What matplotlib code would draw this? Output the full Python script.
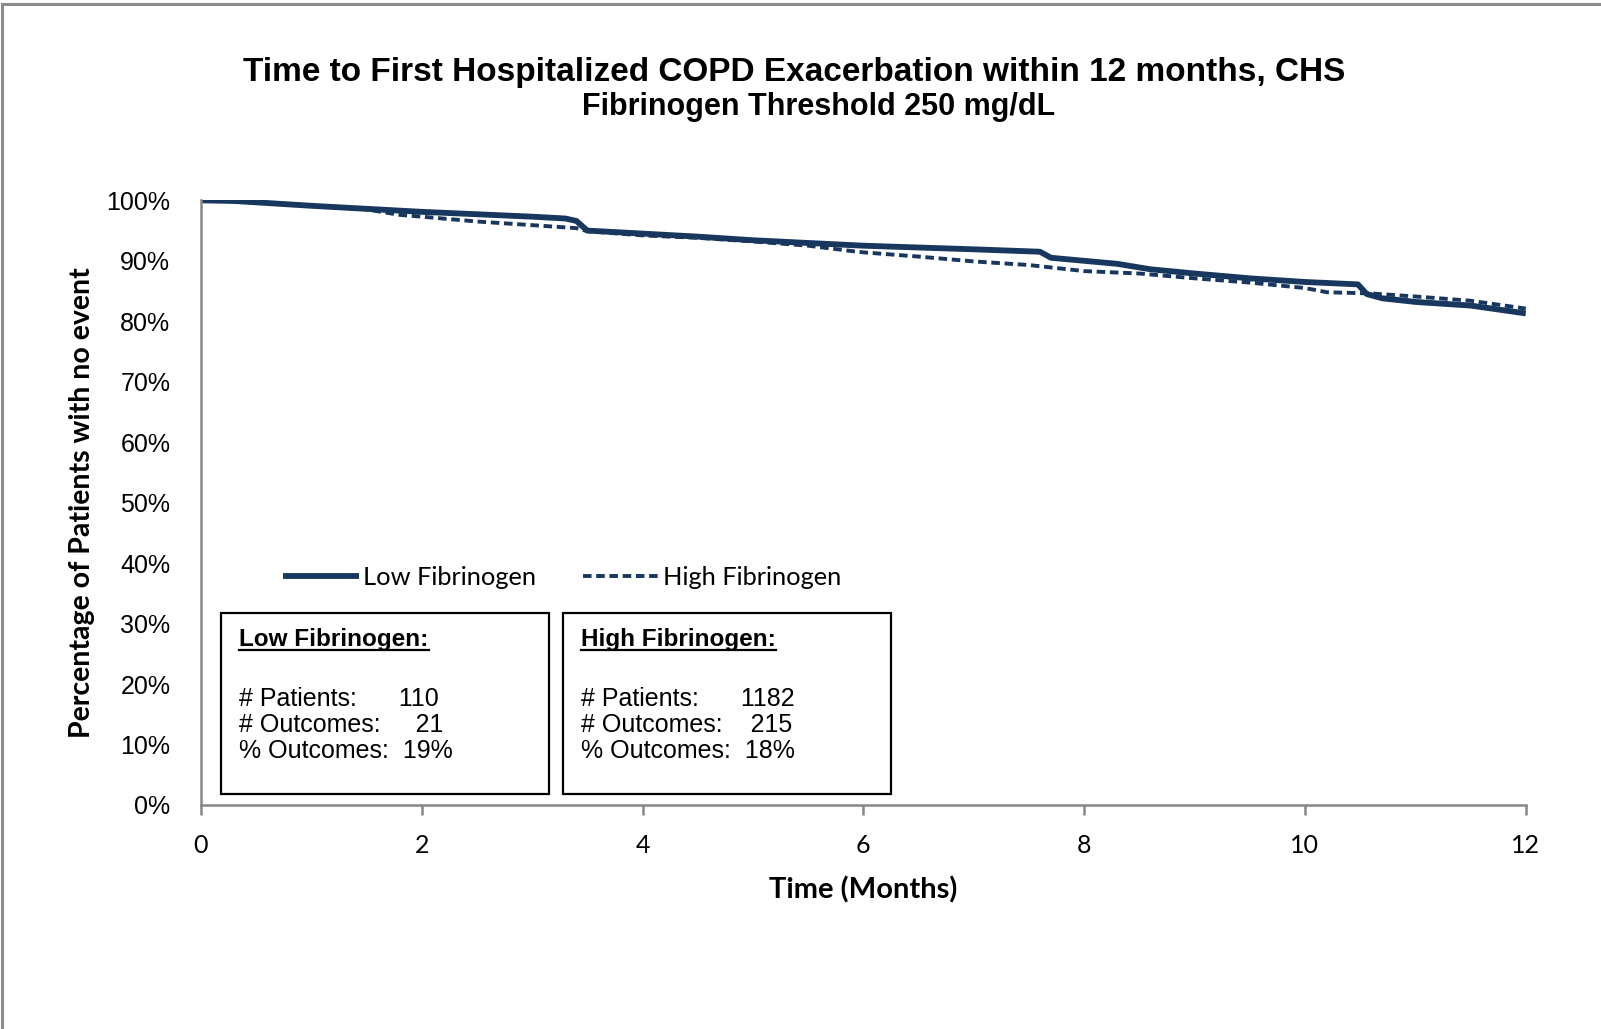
import numpy as np
import matplotlib
matplotlib.use('Agg')
import matplotlib.pyplot as plt
from matplotlib.lines import Line2D
from matplotlib.patches import Rectangle
from matplotlib.ticker import FuncFormatter

# Kaplan-Meier style curves (months, % event free)
low_t = [0, 0.3, 1.0, 1.5, 2.0, 2.5, 3.0, 3.3, 3.4, 3.5, 4.0, 4.5, 5.0, 6.0, 7.0,
         7.6, 7.7, 8.0, 8.3, 8.6, 9.0, 9.5, 10.0, 10.48, 10.56, 10.7, 11.0, 11.5, 12]
low_y = [100, 99.9, 99.1, 98.6, 98.1, 97.7, 97.3, 97.0, 96.6, 95.0, 94.5, 94.0, 93.4,
         92.5, 91.9, 91.5, 90.5, 90.0, 89.5, 88.6, 87.9, 87.1, 86.5, 86.1, 84.5, 83.8,
         83.2, 82.6, 81.3]

high_t = [0, 0.5, 1.0, 1.5, 1.8, 2.0, 2.5, 3.0, 3.4, 3.5, 4.0, 4.5, 5.0, 5.5, 5.9,
          6.0, 6.5, 7.0, 7.5, 8.0, 8.5, 9.0, 9.5, 10.0, 10.2, 10.6, 11.0, 11.5, 12]
high_y = [100, 99.7, 99.1, 98.5, 97.6, 97.3, 96.5, 95.9, 95.4, 94.9, 94.2, 93.8, 93.2,
          92.5, 91.6, 91.4, 90.7, 89.9, 89.3, 88.3, 87.9, 87.1, 86.4, 85.5, 84.8, 84.6,
          84.1, 83.4, 82.1]

series_names = ['Low Fibrinogen', 'High Fibrinogen']
n_patients = [110, 1182]
n_outcomes = [21, 215]
pct_outcomes = [19, 18]

navy = '#17375E'
grey = '#868686'

fig = plt.figure(figsize=(16.01, 10.29), dpi=100)
ax = fig.add_axes([0.1255, 0.2177, 0.8275, 0.5876])

l1, = ax.plot(low_t, low_y, color=navy, lw=4.2, solid_capstyle='butt',
              label=series_names[0])
l2, = ax.plot(high_t, high_y, color=navy, lw=2.8, ls=(0, (2.2, 1.2)),
              label=series_names[1])

ax.set_xlim(0, 12)
ax.set_ylim(0, 100)
ax.set_xticks(np.arange(0, 13, 2))
ax.set_yticks(np.arange(0, 101, 10))
ax.yaxis.set_major_formatter(FuncFormatter(lambda v, p: '%d%%' % v))
for s in ['top', 'right']:
    ax.spines[s].set_visible(False)
for s in ['left', 'bottom']:
    ax.spines[s].set_color(grey)
    ax.spines[s].set_linewidth(1.8)
ax.tick_params(axis='y', length=0, pad=22, labelsize=18)
ax.tick_params(axis='x', length=7, width=1.8, color=grey, pad=14, labelsize=18)
for lab in ax.get_yticklabels():
    lab.set_fontfamily('Liberation Sans')
for lab in ax.get_xticklabels():
    lab.set_fontfamily('Lato')

ax.set_xlabel('Time (Months)', fontsize=21, fontweight='bold', family='Lato',
              labelpad=14)
ax.set_ylabel('Percentage of Patients with no event', fontsize=20.5,
              fontweight='bold', family='Lato', labelpad=8)

fig.text(0.496, 0.93, 'Time to First Hospitalized COPD Exacerbation within 12 months, CHS',
         ha='center', va='center', fontsize=24, fontweight='bold',
         family='Liberation Sans')
fig.text(0.5115, 0.896, 'Fibrinogen Threshold 250 mg/dL', ha='center', va='center',
         fontsize=22, fontweight='bold', family='Liberation Sans')

leg = ax.legend(handles=[l1, l2], loc='center left', bbox_to_anchor=(0.062, 0.376),
                ncol=2, frameon=False, handlelength=3.0, handletextpad=0.15,
                columnspacing=1.85, borderpad=0, borderaxespad=0,
                prop={'family': 'Lato', 'size': 18.3})

# statistics boxes
box_x = [0.015, 0.273]
box_w = 0.248
box_y0, box_y1 = 0.018, 0.318
for i in range(2):
    ax.add_patch(Rectangle((box_x[i], box_y0), box_w, box_y1 - box_y0,
                           transform=ax.transAxes, fill=False, ec='black', lw=1.6))
    tx = box_x[i] + 0.014
    hdr = ax.text(tx, 0.273, series_names[i] + ':', transform=ax.transAxes,
                  fontsize=17.5, fontweight='bold', family='Liberation Sans',
                  ha='left', va='center')
    body = ('# Patients:      %s\n# Outcomes:   %4s\n%% Outcomes:  %d%%'
            % (n_patients[i], n_outcomes[i], pct_outcomes[i]))
    ax.text(tx, 0.132, body, transform=ax.transAxes, fontsize=18,
            family='Liberation Sans', ha='left', va='center', linespacing=1.12)
    fig.canvas.draw()
    bb = hdr.get_window_extent().transformed(ax.transAxes.inverted())
    ax.add_line(Line2D([bb.x0, bb.x1], [bb.y0 + 0.002, bb.y0 + 0.002],
                       transform=ax.transAxes, color='black', lw=1.6))

# outer frame (left and top edges)
fig.add_artist(Line2D([0.0015, 0.0015], [0, 0.996], color='#8c8c8c', lw=2.2))
fig.add_artist(Line2D([0.0015, 1], [0.996, 0.996], color='#8c8c8c', lw=2.2))

fig.savefig('out.png', dpi=100)
